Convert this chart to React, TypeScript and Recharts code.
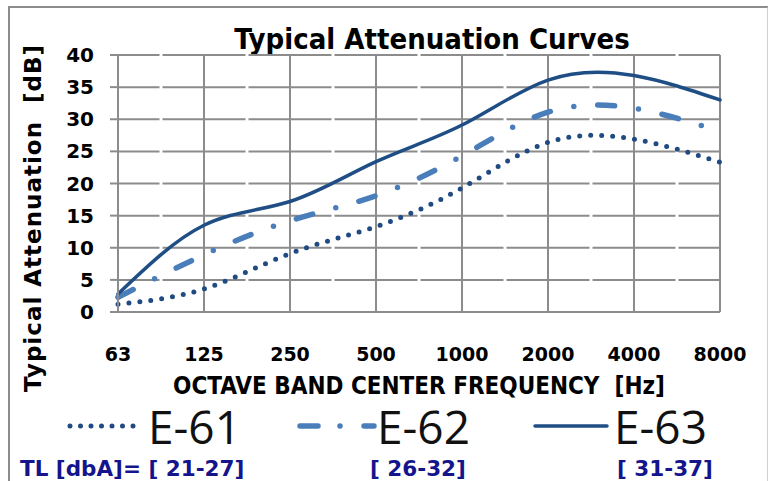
import { LineChart, Line, XAxis, YAxis, CartesianGrid } from "recharts";

const frequencies = ["63", "125", "250", "500", "1000", "2000", "4000", "8000"];
const e61 = [1.2, 3.6, 9.1, 13.3, 19.3, 26.4, 26.9, 23.3];
const e62 = [2.3, 8.9, 14.2, 18.1, 24.3, 31.1, 31.7, 28.1];
const e63 = [2.8, 13.5, 17.2, 23.4, 29.1, 36.1, 36.8, 33.0];
const yTicks = [0, 5, 10, 15, 20, 25, 30, 35, 40];
const tlRanges = ["[ 21-27]", "[ 26-32]", "[ 31-37]"];

const data = frequencies.map((f, i) => ({
  freq: f,
  e61: e61[i],
  e62: e62[i],
  e63: e63[i],
}));

const GRID = "#8c8c8c";
const BOLD = "'DejaVu Sans', Verdana, sans-serif";
const NARROW = "'Liberation Sans Narrow', 'DejaVu Sans Condensed', sans-serif";

const series = [
  { key: "e61", name: "E-61", color: "#1f4a82", width: 5, dash: "0 11" },
  { key: "e62", name: "E-62", color: "#4a7ebb", width: 5.5, dash: "17 24 0 24" },
  { key: "e63", name: "E-63", color: "#1f4e85", width: 3.5, dash: undefined },
];

const tlStyle = {
  position: "absolute" as const,
  top: 458,
  fontFamily: BOLD,
  fontWeight: "bold" as const,
  fontSize: 21.5,
  lineHeight: "22px",
  color: "#14148c",
  whiteSpace: "pre" as const,
};

function LegendRow() {
  const items = [
    { x: 70, w: 66, textX: 148 },
    { x: 300, w: 74, textX: 377 },
    { x: 535, w: 72, textX: 614 },
  ];
  return (
    <>
      {series.map((s, i) => (
        <div key={s.key}>
          <svg
            width={items[i].w + 6}
            height={12}
            style={{ position: "absolute", left: items[i].x - 3, top: 420 }}
          >
            <line
              x1={3}
              x2={items[i].w + 3}
              y1={6}
              y2={6}
              stroke={s.color}
              strokeWidth={s.width}
              strokeDasharray={s.key === "e61" ? "0 10.5" : s.key === "e62" ? "18 22 0 24" : undefined}
              strokeLinecap="round"
            />
          </svg>
          <div
            style={{
              position: "absolute",
              left: items[i].textX,
              top: 406,
              fontFamily: "'Open Sans', sans-serif",
              fontWeight: 400,
              fontSize: 46,
              lineHeight: "40px",
              color: "#111",
            }}
          >
            {s.name}
          </div>
        </div>
      ))}
      <div style={{ ...tlStyle, left: 20 }}>{"TL [dbA]= " + tlRanges[0]}</div>
      <div style={{ ...tlStyle, left: 370 }}>{tlRanges[1]}</div>
      <div style={{ ...tlStyle, left: 617 }}>{tlRanges[2]}</div>
    </>
  );
}

export default function App() {
  return (
    <div style={{ position: "absolute", left: 0, top: 0, width: 768, height: 481, background: "#fff", overflow: "hidden" }}>
      <div
        style={{
          position: "absolute",
          left: 8,
          top: 6,
          width: 757,
          height: 480,
          borderLeft: `2px solid ${GRID}`,
          borderTop: `2px solid ${GRID}`,
          borderRight: `2px solid #d0d0d0`,
        }}
      />
      <div
        style={{
          position: "absolute",
          left: 131,
          width: 602,
          top: 22,
          textAlign: "center",
          fontFamily: NARROW,
          fontWeight: "bold",
          fontSize: 29,
          color: "#000",
        }}
      >
        Typical Attenuation Curves
      </div>
      <div
        style={{
          position: "absolute",
          left: 33,
          top: 218,
          transform: "translate(-50%, -50%) rotate(-90deg)",
          whiteSpace: "pre",
          fontFamily: BOLD,
          fontWeight: "bold",
          fontSize: 23,
          letterSpacing: 1,
          color: "#000",
        }}
      >
        {"Typical Attenuation  [dB]"}
      </div>
      <div
        style={{
          position: "absolute",
          left: 118,
          width: 602,
          top: 374,
          textAlign: "center",
          whiteSpace: "pre",
          fontFamily: NARROW,
          fontWeight: "bold",
          fontSize: 24,
          lineHeight: "24px",
          color: "#000",
        }}
      >
        {"OCTAVE BAND CENTER FREQUENCY  [Hz]"}
      </div>
      <LineChart
        width={768}
        height={481}
        data={data}
        margin={{ top: 55, right: 48, bottom: 109, left: 58 }}
        style={{ position: "absolute", left: 0, top: 0 }}
      >
        <CartesianGrid horizontal={false} stroke={GRID} strokeWidth={2} />
        <CartesianGrid vertical={false} stroke={GRID} strokeWidth={2} strokeDasharray="41.5 3 41.5 0" />
        <XAxis
          dataKey="freq"
          height={60}
          axisLine={{ stroke: GRID, strokeWidth: 2 }}
          tickLine={false}
          tickSize={0}
          tickMargin={36}
          interval={0}
          tick={{ fontFamily: BOLD, fontWeight: "bold", fontSize: 19, fill: "#000" }}
        />
        <YAxis
          width={60}
          domain={[0, 40]}
          ticks={yTicks}
          interval={0}
          axisLine={{ stroke: GRID, strokeWidth: 2 }}
          tickLine={{ stroke: GRID, strokeWidth: 2 }}
          tickSize={8}
          tickMargin={16}
          tick={{ fontFamily: BOLD, fontWeight: "bold", fontSize: 20, fill: "#000" }}
        />
        {series.map((s) => (
          <Line
            key={s.key}
            dataKey={s.key}
            name={s.name}
            type="natural"
            stroke={s.color}
            strokeWidth={s.width}
            strokeDasharray={s.dash}
            strokeLinecap="round"
            dot={false}
            activeDot={false}
            isAnimationActive={false}
          />
        ))}
      </LineChart>
      <LegendRow />
    </div>
  );
}
